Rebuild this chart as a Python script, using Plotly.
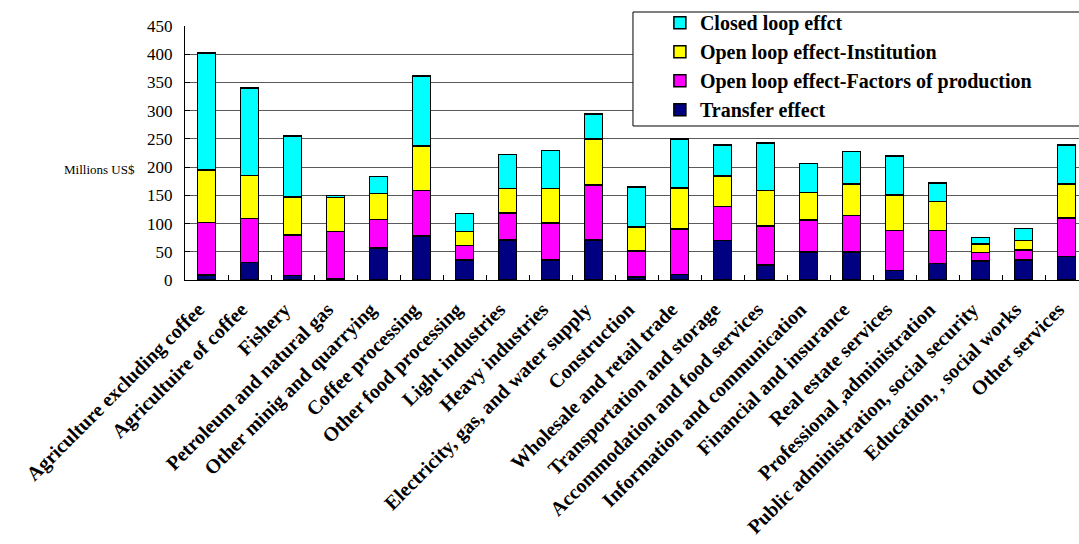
import plotly.graph_objects as go

sectors = [
    "Agriculture excluding coffee", "Agricultuire of coffee", "Fishery",
    "Petroleum and natural gas", "Other minig and quarrying", "Coffee processing",
    "Other food processing", "Light industries", "Heavy industries",
    "Electricity, gas, and water supply", "Construction", "Wholesale and retail trade",
    "Transportation and storage", "Accommodation and food services",
    "Information and communication", "Financial and insurance", "Real estate services",
    "Professional ,administration", "Public administration, social security",
    "Education, , social works", "Other services",
]

transfer = [9, 31, 8, 2, 57, 78, 35, 71, 35, 71, 5, 10, 70, 27, 50, 50, 17, 29, 34, 35, 42]
factors = [93, 78, 72, 84, 50, 81, 26, 48, 66, 97, 46, 80, 60, 69, 56, 64, 71, 59, 15, 18, 68]
institution = [93, 76, 67, 60, 46, 78, 25, 43, 61, 82, 43, 73, 54, 63, 49, 56, 63, 51, 15, 17, 60]
closed_loop = [207, 155, 108, 4, 30, 124, 32, 60, 67, 44, 71, 87, 55, 84, 51, 58, 69, 33, 11, 21, 69]

series = [
    ("Transfer effect", transfer, "#000080"),
    ("Open loop effect-Factors of production", factors, "#FF00FF"),
    ("Open loop effect-Institution", institution, "#FFFF00"),
    ("Closed loop effct", closed_loop, "#00FFFF"),
]

serif = "Liberation Serif"

fig = go.Figure()
for name, values, color in series:
    fig.add_trace(go.Bar(
        x=sectors, y=values, name=name, width=0.41,
        marker=dict(color=color, line=dict(color="black", width=1.5)),
    ))

fig.update_layout(
    width=1079, height=544,
    barmode="stack",
    plot_bgcolor="white", paper_bgcolor="white",
    margin=dict(l=185, r=0, t=26, b=264, autoexpand=False),
    showlegend=True,
    legend=dict(
        traceorder="reversed",
        x=0.501, y=1.09, xanchor="left", yanchor="top",
        bgcolor="rgba(0,0,0,0)", borderwidth=0,
        font=dict(family=serif, size=20, color="black", weight="bold"),
        indentation=27,
    ),
    # framed white panel behind the legend entries
    shapes=[dict(
        type="rect", xref="paper", yref="paper", layer="above",
        x0=0.5011, x1=1.02, y0=0.6063, y1=1.0551,
        fillcolor="white", line=dict(color="black", width=1),
    )],
    xaxis=dict(
        type="category",
        range=[-0.5, 20.29],
        automargin=False,
        tickangle=-45,
        tickfont=dict(family=serif, size=20, color="black", weight="bold"),
        ticklabelstandoff=9, ticklabelshift=-8,
        showline=True, linecolor="black", linewidth=1,
        ticks="inside", ticklen=5, tickcolor="black",
        tickson="boundaries", showgrid=False,
    ),
    yaxis=dict(
        range=[0, 450], dtick=50,
        automargin=False,
        tickfont=dict(family=serif, size=17, color="black"),
        ticklabelstandoff=8,
        showline=True, linecolor="black", linewidth=1,
        ticks="inside", ticklen=5, tickcolor="black",
        showgrid=True, gridcolor="#5a5a5a", gridwidth=1,
        zeroline=False,
    ),
    annotations=[dict(
        text="Millions US$", xref="paper", yref="paper",
        x=-0.1376, y=0.437, xanchor="left", yanchor="middle",
        showarrow=False, font=dict(family=serif, size=13, color="black"),
    )],
)

fig.write_html("out.html")
